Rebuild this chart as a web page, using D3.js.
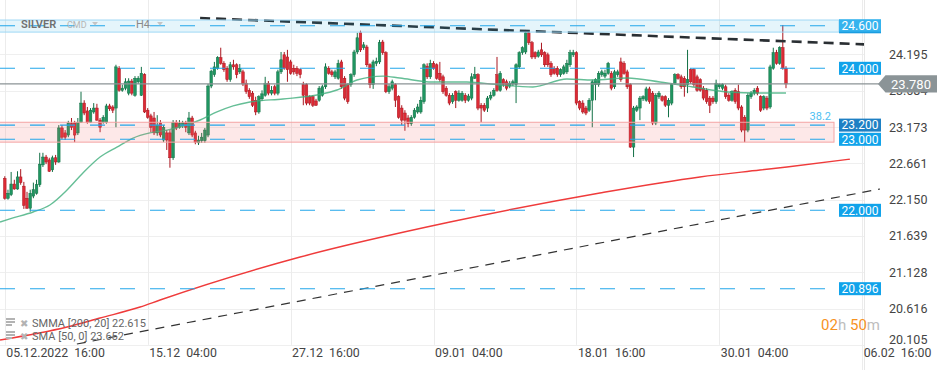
<!DOCTYPE html>
<html><head><meta charset="utf-8">
<script src="https://cdn.jsdelivr.net/npm/d3@7"></script>
<style>
html,body{margin:0;padding:0;background:#fff;}
svg{display:block;font-family:Roboto,"Noto Sans",sans-serif;}
text{white-space:pre;}
</style></head><body><svg id="c" width="949" height="370"></svg>
<script>
const opens = [
22.45,22.17,22.22,22.37,22.30,22.47,22.34,22.17,22.03,22.20,
22.24,22.36,22.64,22.75,22.71,22.57,22.74,22.68,23.16,23.09,
23.06,23.22,23.23,23.09,23.24,23.51,23.40,23.24,23.385,23.44,
23.27,23.24,23.24,23.47,23.455,23.44,24.00,23.69,23.72,23.65,
23.82,23.62,23.81,23.62,23.91,23.41,23.33,23.30,23.09,23.23,
22.99,23.09,23.09,22.74,23.24,23.17,23.19,23.23,23.09,23.30,
23.09,22.95,22.98,22.98,23.06,23.75,23.91,24.00,24.15,24.07,
24.00,23.84,24.05,24.05,23.95,23.95,23.79,23.69,23.65,23.55,
23.385,23.57,23.62,23.79,23.65,23.74,23.65,23.95,24.19,24.16,
24.09,24.00,24.00,23.98,23.77,23.77,23.60,23.60,23.54,23.55,
23.62,23.74,24.00,23.95,23.88,23.86,24.09,23.86,23.77,23.77,
23.91,24.23,24.50,24.29,24.30,24.05,23.77,24.07,24.09,24.37,
24.22,23.67,23.72,23.77,23.60,23.44,23.37,23.30,23.22,23.31,
23.385,23.385,23.53,24.03,23.88,24.07,24.05,23.93,23.88,23.72,
23.62,23.53,23.67,23.55,23.55,23.62,23.55,23.58,23.86,23.91,
23.48,23.48,23.44,23.58,23.62,23.91,23.69,23.84,23.81,23.75,
23.78,23.77,24.02,24.22,24.23,24.50,24.36,24.22,24.17,24.26,
24.22,24.19,24.07,24.00,24.00,23.91,23.93,23.95,24.05,24.19,
24.22,23.53,23.51,23.44,23.41,23.55,23.77,23.77,23.91,23.89,
23.93,23.93,23.74,23.91,24.09,24.07,23.95,23.77,22.89,23.41,
23.44,23.57,23.55,23.71,23.65,23.23,23.60,23.60,23.60,23.48,
23.51,23.79,23.91,23.88,23.86,23.77,23.98,23.98,23.88,23.84,
23.72,23.69,23.58,23.58,23.53,23.74,23.72,23.74,23.62,23.55,
23.69,23.67,23.455,23.31,23.13,23.60,23.65,23.72,23.60,23.44,
23.58,23.455,24.00,24.22,24.07,24.29,24.00];
const highs = [
22.48,22.29,22.54,22.43,22.55,22.58,22.40,22.26,22.29,22.39,
22.43,22.81,22.81,22.78,22.74,22.77,22.78,23.20,23.20,23.13,
23.26,23.30,23.26,23.30,23.67,23.55,23.455,23.44,23.51,23.50,
23.30,23.34,23.50,23.50,23.48,24.05,24.03,23.77,23.86,23.86,
23.85,23.89,23.89,24.02,23.93,23.44,23.36,23.385,23.34,23.27,
23.20,23.13,23.13,23.27,23.27,23.27,23.26,23.26,23.385,23.33,
23.12,23.05,23.09,23.16,23.78,23.98,24.09,24.17,24.29,24.10,
24.03,24.09,24.12,24.07,24.06,23.98,23.84,23.72,23.68,23.60,
23.62,23.69,23.88,23.82,23.75,23.77,23.98,24.23,24.23,24.26,
24.12,24.05,24.03,24.00,23.81,23.79,23.62,23.62,23.57,23.75,
23.77,24.07,24.03,23.98,23.98,24.12,24.12,23.89,23.79,23.93,
24.26,24.50,24.53,24.37,24.33,24.07,24.12,24.15,24.40,24.40,
24.24,23.78,23.84,23.79,23.62,23.48,23.41,23.34,23.34,23.44,
23.50,23.60,24.07,24.07,24.12,24.10,24.07,24.09,23.91,23.75,
23.65,23.65,23.69,23.69,23.68,23.65,23.64,23.93,24.02,23.93,
23.51,23.51,23.61,23.67,23.72,24.16,23.96,23.86,23.84,23.82,
23.84,24.07,24.24,24.31,24.54,24.53,24.385,24.24,24.26,24.36,
24.24,24.22,24.10,24.03,24.03,24.00,24.05,24.12,24.26,24.26,
24.24,23.55,23.55,23.47,23.58,23.84,23.86,23.96,23.98,23.98,
24.09,23.96,23.98,23.98,24.15,24.10,23.98,23.79,23.47,23.48,
23.61,23.62,23.74,23.74,23.68,23.65,23.68,23.62,23.62,23.58,
23.79,23.93,23.93,23.91,23.89,24.26,24.00,24.00,23.91,23.86,
23.75,23.72,23.61,23.61,23.84,23.79,23.79,23.77,23.65,23.69,
23.72,23.77,23.48,23.34,23.65,23.68,23.72,23.75,23.62,23.62,
23.61,24.05,24.29,24.26,24.31,24.61,24.03];
const lows = [
22.15,22.15,22.20,22.29,22.29,22.36,22.02,22.02,21.98,22.17,
22.22,22.33,22.61,22.65,22.54,22.54,22.64,22.67,23.00,22.99,
23.03,23.13,22.96,23.06,23.23,23.34,23.22,23.23,23.36,23.26,
23.10,23.22,23.22,23.40,23.37,23.17,23.67,23.67,23.69,23.62,
23.62,23.60,23.78,23.61,23.37,23.29,23.10,23.06,23.05,23.03,
22.96,22.85,22.60,22.71,23.13,23.15,23.16,23.10,23.06,23.03,
22.93,22.92,22.95,22.95,23.03,23.72,23.88,23.98,24.05,23.95,
23.81,23.81,23.98,23.86,23.92,23.75,23.64,23.57,23.455,23.34,
23.36,23.54,23.60,23.62,23.62,23.62,23.62,23.92,23.98,23.81,
23.91,23.91,23.89,23.86,23.48,23.48,23.48,23.455,23.47,23.53,
23.60,23.71,23.91,23.88,23.85,23.84,23.71,23.55,23.50,23.74,
23.88,24.20,24.23,24.26,24.02,23.72,23.71,24.03,24.06,24.19,
23.65,23.64,23.69,23.455,23.29,23.20,23.12,23.17,23.19,23.29,
23.36,23.36,23.50,23.85,23.85,23.98,23.84,23.81,23.64,23.60,
23.48,23.50,23.44,23.53,23.53,23.51,23.53,23.55,23.85,23.41,
23.24,23.385,23.385,23.55,23.60,23.67,23.67,23.74,23.69,23.72,
23.75,23.51,23.99,24.19,24.20,24.33,24.13,24.13,24.15,24.16,
24.02,24.02,23.88,23.91,23.88,23.88,23.91,23.92,24.02,24.16,
23.48,23.41,23.36,23.34,23.385,23.17,23.55,23.74,23.88,23.86,
23.91,23.69,23.71,23.88,23.81,23.91,23.71,22.88,22.75,23.385,
23.27,23.54,23.53,23.50,23.20,23.20,23.57,23.53,23.455,23.31,
23.48,23.77,23.84,23.71,23.60,23.65,23.78,23.74,23.67,23.67,
23.55,23.50,23.37,23.50,23.50,23.71,23.69,23.57,23.53,23.53,
23.50,23.41,23.10,22.96,23.10,23.57,23.62,23.62,23.385,23.41,
23.41,23.43,23.98,24.05,24.05,23.98,23.72];
const closes = [
22.17,22.24,22.37,22.30,22.47,22.39,22.07,22.03,22.24,22.29,
22.36,22.65,22.75,22.68,22.55,22.74,22.68,23.16,23.03,23.03,
23.23,23.17,23.06,23.24,23.51,23.37,23.24,23.41,23.44,23.27,
23.17,23.31,23.47,23.43,23.41,24.02,23.69,23.72,23.81,23.82,
23.65,23.86,23.86,23.93,23.385,23.31,23.17,23.09,23.20,23.06,
23.17,22.99,22.74,23.24,23.16,23.22,23.23,23.17,23.30,23.06,
22.96,22.99,23.03,23.13,23.75,23.96,24.02,24.15,24.07,23.98,
23.84,24.05,24.02,23.91,24.00,23.78,23.67,23.60,23.48,23.385,
23.60,23.64,23.79,23.65,23.69,23.65,23.95,24.12,24.00,23.98,
23.93,23.95,23.93,23.91,23.62,23.51,23.51,23.48,23.48,23.72,
23.74,24.02,23.93,23.91,23.95,24.07,23.74,23.58,23.53,23.91,
24.23,24.43,24.26,24.33,24.05,23.77,24.09,24.10,24.36,24.22,
23.67,23.74,23.81,23.55,23.31,23.27,23.27,23.22,23.31,23.41,
23.455,23.55,24.05,23.88,24.07,24.00,23.86,23.84,23.67,23.62,
23.51,23.62,23.55,23.65,23.65,23.55,23.61,23.88,23.91,23.44,
23.44,23.41,23.58,23.62,23.69,23.69,23.93,23.77,23.72,23.79,
23.81,24.05,24.22,24.29,24.50,24.36,24.16,24.16,24.23,24.19,
24.05,24.05,23.91,23.93,23.91,23.98,24.02,24.07,24.22,24.22,
23.51,23.44,23.385,23.37,23.55,23.81,23.84,23.93,23.95,23.93,
24.07,23.72,23.95,23.95,23.84,23.93,23.74,22.89,23.44,23.455,
23.58,23.60,23.71,23.53,23.23,23.62,23.65,23.55,23.48,23.55,
23.77,23.91,23.86,23.74,23.74,23.84,23.81,23.77,23.69,23.69,
23.58,23.53,23.48,23.53,23.79,23.77,23.77,23.60,23.55,23.67,
23.53,23.44,23.13,23.13,23.62,23.65,23.69,23.65,23.41,23.60,
23.44,24.02,24.22,24.07,24.29,24.00,23.78];

const xTickIdx = [0,45,90,135,180,225,270];
const xTickLabels = ["05.12.2022  16:00","15.12  04:00","27.12  16:00","09.01  04:00","18.01  16:00","30.01  04:00","06.02  16:00"];
const yTicks = [20.105,20.616,21.128,21.639,22.150,22.661,23.173,23.684,24.195];
const yTickLabels = ["20.105","20.616","21.128","21.639","22.150","22.661","23.173","23.684","24.195"];
const levels = [24.6,24.0,23.2,23.0,22.0,20.896];
const levelLabels = ["24.600","24.000","23.200","23.000","22.000","20.896"];
const levelBoxColors = ["#35b3ee","#11a3ea","#1e80c4","#11a3ea","#11a3ea","#11a3ea"];
const smaIdx = [-1.5,1.6,8.9,14.2,19.6,24.6,30,35.3,40.4,45.7,51.1,56.1,61.5,66.8,71.9,77.2,87.6,98.3,104.6,110.9,119.1,124.4,134.8,145.5,155.9,166.3,177,185.2,196,206.3,216.7,227.4,237.8,246];
const smaVal = [21.835,21.88,21.976,22.075,22.286,22.525,22.75,22.89,23.018,23.09,23.13,23.187,23.272,23.385,23.47,23.525,23.568,23.624,23.694,23.835,23.89,23.863,23.807,23.807,23.765,23.737,23.85,23.835,23.863,23.807,23.737,23.667,23.652,23.652];
const smmaIdx = [-1.5,19.6,30,42.6,48.9,93,140.2,187.4,218.9,237.8,246.3,266.1];
const smmaVal = [20.173,20.356,20.483,20.638,20.737,21.342,21.835,22.244,22.47,22.567,22.61,22.72];
const zoneRange = [23.24,22.96];
const bandRange = [24.68,24.51];
const lastPrice = 23.78;
const trendUpperIdx = [61.5,275.6], trendUpperVal = [24.708,24.328];
const trendLowerIdx = [22.7,275.6], trendLowerVal = [20.117,22.30];
const legendLines = ["SMMA [200, 20] 22.615","SMA [50, 0] 23.652"];

const svg = d3.select("#c");
const plotR = 864, plotB = 344.85;
const x = d3.scaleLinear().domain([0,270]).range([4.8,862.2]);
const y = d3.scaleLinear().domain([20.105,24.962]).range([344.85,0]);

svg.append("defs").append("clipPath").attr("id","pc")
  .append("rect").attr("x",0).attr("y",0).attr("width",plotR).attr("height",plotB);

// grid
const grid = svg.append("g");
grid.selectAll(".hg").data(yTicks).enter().append("line")
  .attr("x1",0).attr("x2",plotR).attr("y1",d=>Math.round(y(d))+0.5).attr("y2",d=>Math.round(y(d))+0.5)
  .attr("stroke","#efefef");
grid.selectAll(".vg").data(xTickIdx).enter().append("line")
  .attr("x1",d=>Math.round(x(d))+0.5).attr("x2",d=>Math.round(x(d))+0.5)
  .attr("y1",0).attr("y2",(d,i)=> i===xTickIdx.length-1 ? 370 : plotB)
  .attr("stroke","#ececec");
grid.append("line").attr("x1",plotR+0.5).attr("x2",plotR+0.5).attr("y1",0).attr("y2",370).attr("stroke","#e8e8e8");

const plot = svg.append("g").attr("clip-path","url(#pc)");

// candles
const idx = d3.range(closes.length);
const cg = plot.append("g");
idx.forEach(i=>{
  const up = closes[i] >= opens[i];
  const col = up ? "#1f9661" : "#dd2a35";
  const dark = up ? "#137046" : "#a9161f";
  const cx = x(i);
  cg.append("line").attr("x1",cx).attr("x2",cx).attr("y1",y(highs[i])).attr("y2",y(lows[i]))
    .attr("stroke",dark).attr("stroke-width",1);
  const top = y(Math.max(opens[i],closes[i])), bot = y(Math.min(opens[i],closes[i]));
  cg.append("rect").attr("x",cx-1.3).attr("width",2.6)
    .attr("y",top).attr("height",Math.max(1,bot-top))
    .attr("fill",col).attr("stroke",dark).attr("stroke-width",0.5);
});

// moving averages
const line = d3.line().x(d=>x(d[0])).y(d=>y(d[1])).curve(d3.curveMonotoneX);
plot.append("path").datum(smaIdx.map((d,i)=>[d,smaVal[i]])).attr("d",line)
  .attr("fill","none").attr("stroke","#3fae7c").attr("stroke-width",1.4).attr("opacity",0.8);
plot.append("path").datum(smmaIdx.map((d,i)=>[d,smmaVal[i]])).attr("d",line)
  .attr("fill","none").attr("stroke","#ef3b3b").attr("stroke-width",1.4);

// zones
plot.append("rect").attr("x",-1).attr("width",835).attr("y",y(zoneRange[0])).attr("height",y(zoneRange[1])-y(zoneRange[0]))
  .attr("fill","rgba(245,110,110,0.16)").attr("stroke","#f4a4a4").attr("stroke-width",1);
svg.append("rect").attr("x",-1).attr("width",840).attr("y",y(bandRange[0])).attr("height",y(bandRange[1])-y(bandRange[0]))
  .attr("fill","rgba(41,171,226,0.12)").attr("stroke","#9fd8f5").attr("stroke-width",1);

// current price line
svg.append("line").attr("x1",0).attr("x2",880).attr("y1",y(lastPrice)).attr("y2",y(lastPrice))
  .attr("stroke","#8b9396").attr("stroke-width",1.2);

// trend lines
plot.append("line").attr("x1",x(trendUpperIdx[0])).attr("x2",x(trendUpperIdx[1]))
  .attr("y1",y(trendUpperVal[0])).attr("y2",y(trendUpperVal[1]))
  .attr("stroke","#2a2f33").attr("stroke-width",2.6).attr("stroke-dasharray","10,6");
svg.append("line").attr("x1",x(trendLowerIdx[0])).attr("x2",x(trendLowerIdx[1]))
  .attr("y1",y(trendLowerVal[0])).attr("y2",y(trendLowerVal[1]))
  .attr("stroke","#333").attr("stroke-width",1.2).attr("stroke-dasharray","9,7");

// level lines
svg.selectAll(".lv").data(levels).enter().append("line")
  .attr("x1",0).attr("x2",839).attr("y1",d=>y(d)).attr("y2",d=>y(d))
  .attr("stroke","#23a6ea").attr("stroke-width",1.1).attr("stroke-dasharray","15,15");

// fib label
svg.append("text").attr("x",831).attr("y",y(zoneRange[0])-2).attr("text-anchor","end")
  .attr("font-size",11).attr("fill","#4fc0f2").text("38.2");

// y axis labels
svg.selectAll(".yl").data(yTicks).enter().append("text")
  .attr("x",889).attr("y",d=>Math.min(y(d),339)).attr("dy","0.36em")
  .attr("font-size",12.5).attr("fill","#444").text((d,i)=>yTickLabels[i]);

// x axis labels
svg.selectAll(".xl").data(xTickIdx).enter().append("text")
  .attr("x",d=>x(d)+1.5).attr("y",357).attr("font-size",12.3).attr("fill","#444")
  .attr("xml:space","preserve").text((d,i)=>xTickLabels[i]);

// level label boxes
const lg = svg.selectAll(".lb").data(levels).enter().append("g");
lg.append("rect").attr("x",839).attr("width",42).attr("y",d=>y(d)-6.5).attr("height",13)
  .attr("fill",(d,i)=>levelBoxColors[i]);
lg.append("text").attr("x",860).attr("y",d=>y(d)).attr("dy","0.36em").attr("text-anchor","middle")
  .attr("font-size",12).attr("fill","#fff").text((d,i)=>levelLabels[i]);
svg.append("rect").attr("x",839).attr("width",42).attr("y",y(levels[0])+6).attr("height",1.6).attr("fill","#1a9de0");

// current price label
const yc = y(lastPrice);
svg.append("path").attr("d",`M878,${yc} L885.5,${yc-8.7} L937,${yc-8.7} L937,${yc+8.7} L885.5,${yc+8.7} Z`)
  .attr("fill","#8b9497");
svg.append("text").attr("x",911).attr("y",yc).attr("dy","0.36em").attr("text-anchor","middle")
  .attr("font-size",13).attr("fill","#fff").text(lastPrice.toFixed(3));

// header
const hd = svg.append("g").attr("font-size",11);
hd.append("text").attr("x",21).attr("y",28).attr("font-weight",600).attr("fill","#707070").text("SILVER");
hd.append("text").attr("x",67).attr("y",28).attr("font-size",9).attr("fill","#b5b5b5").text("CMD");
hd.append("path").attr("d","M92,22 L98,22 L95,25.5 Z").attr("fill","#c4c4c4");
hd.append("text").attr("x",136).attr("y",28).attr("fill","#8a8a8a").text("H4");
hd.append("path").attr("d","M157,22 L163,22 L160,25.5 Z").attr("fill","#c4c4c4");

// legend
const lgd = svg.append("g");
legendLines.forEach((t,i)=>{
  const yy = 327 + i*13;
  lgd.append("rect").attr("x",6).attr("y",yy-9).attr("width",9).attr("height",2).attr("fill","#b3b3b3");
  lgd.append("rect").attr("x",6).attr("y",yy-6).attr("width",9).attr("height",2).attr("fill","#b3b3b3");
  lgd.append("rect").attr("x",6).attr("y",yy-3).attr("width",6).attr("height",2).attr("fill","#b3b3b3");
  lgd.append("text").attr("x",19.5).attr("y",yy).attr("font-size",10).attr("fill","#b3b3b3").text("✖");
  lgd.append("text").attr("x",32).attr("y",yy).attr("font-size",11).attr("fill","#666").attr("xml:space","preserve").text(t);
});

// countdown
const cd = svg.append("text").attr("x",880).attr("y",330).attr("text-anchor","end").attr("font-size",15);
cd.append("tspan").attr("fill","#f7931e").text("02");
cd.append("tspan").attr("fill","#bdbdbd").text("h ");
cd.append("tspan").attr("fill","#f7931e").text("50");
cd.append("tspan").attr("fill","#bdbdbd").text("m");
</script></body></html>
